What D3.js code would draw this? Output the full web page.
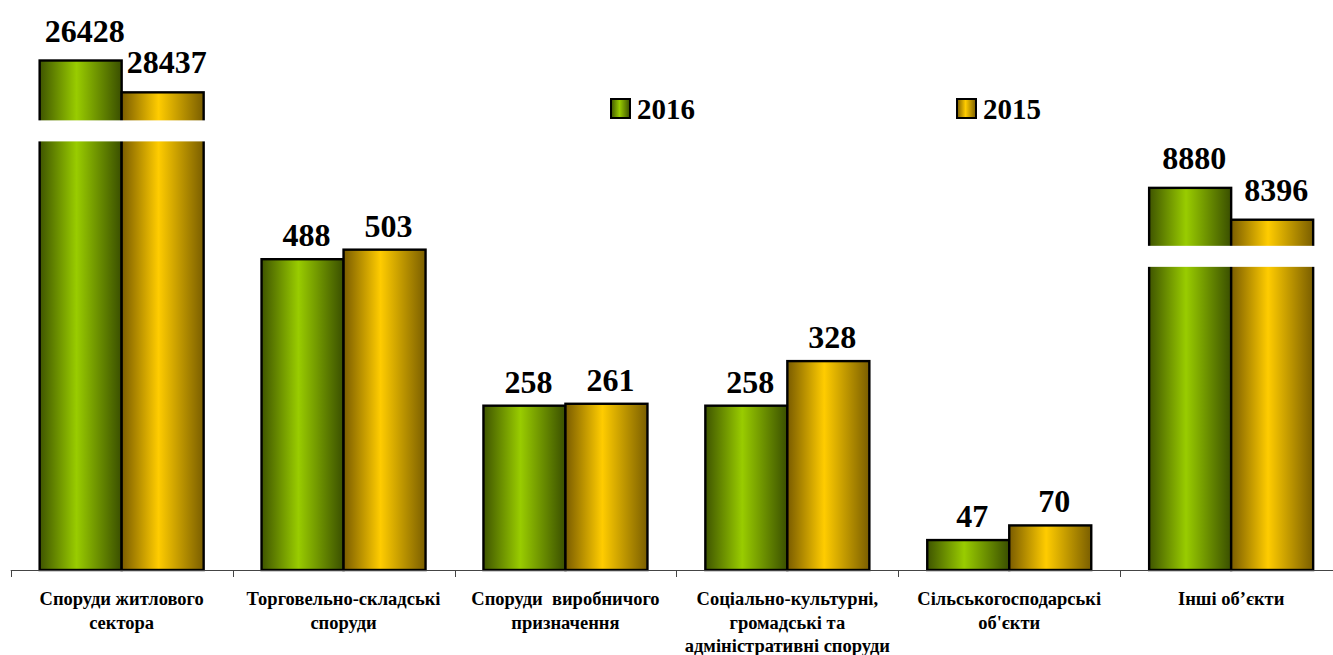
<!DOCTYPE html>
<html><head><meta charset="utf-8">
<script src="https://cdn.jsdelivr.net/npm/d3@7"></script>
<style>html,body{margin:0;padding:0;background:#fff;}svg{display:block;}</style>
</head><body>
<svg id="chart" width="1333" height="655"></svg>
<script>
// ---- data ----
const categories = [
  ["Споруди житлового", "сектора"],
  ["Торговельно-складські", "споруди"],
  ["Споруди  виробничого", "призначення"],
  ["Соціально-культурні,", "громадські та", "адміністративні споруди"],
  ["Сільськогосподарські", "об'єкти"],
  ["Інші об’єкти"]
];
const seriesNames = ["2016", "2015"];
const values2016 = [26428, 488, 258, 258, 47, 8880];
const values2015 = [28437, 503, 261, 328, 70, 8396];
// heights as drawn on the broken axis (null = true value)
const shown2016 = [800, null, null, null, null, 600];
const shown2015 = [750, null, null, null, null, 550];
// axis break bands (in axis units) per category, null = no break
const breaks = [[673, 706], null, null, null, null, [476, 509]];

// ---- layout ----
const svg = d3.select("#chart");
const baseY = 570;
const left = 10.7, step = 221.9;
const serif = "'Liberation Serif','Times New Roman',serif";
const x0 = d3.scaleBand().domain(d3.range(categories.length))
  .range([left, left + step * categories.length]).padding(0);
const x1 = d3.scaleBand().domain(seriesNames).range([0, x0.bandwidth()])
  .paddingInner(0).paddingOuter(0.353);
const y = d3.scaleLinear().domain([0, 895]).range([baseY, 0]);

const defs = svg.append("defs");
function grad(id, dark1, bright, dark2) {
  const g = defs.append("linearGradient").attr("id", id)
    .attr("x1", "0%").attr("x2", "100%").attr("y1", "0%").attr("y2", "0%");
  g.append("stop").attr("offset", "0%").attr("stop-color", dark1);
  g.append("stop").attr("offset", "45%").attr("stop-color", bright);
  g.append("stop").attr("offset", "100%").attr("stop-color", dark2);
}
grad("g2016", "#3f5500", "#99cc00", "#3a4f00");
grad("g2015", "#7a5c00", "#ffcc00", "#7a5e00");
const fills = {"2016": "url(#g2016)", "2015": "url(#g2015)"};

const rows = categories.map((c, i) => ({
  i,
  bars: [
    {s: "2016", v: values2016[i], h: shown2016[i] != null ? shown2016[i] : values2016[i], broken: shown2016[i] != null},
    {s: "2015", v: values2015[i], h: shown2015[i] != null ? shown2015[i] : values2015[i], broken: shown2015[i] != null}
  ]
}));

const groups = svg.append("g").selectAll("g").data(rows).join("g")
  .attr("transform", d => `translate(${x0(d.i)},0)`);

groups.selectAll("rect.bar").data(d => d.bars).join("rect")
  .attr("class", "bar")
  .attr("x", d => x1(d.s))
  .attr("width", x1.bandwidth())
  .attr("y", d => y(d.h))
  .attr("height", d => baseY - y(d.h))
  .attr("fill", d => fills[d.s])
  .attr("stroke", "#000").attr("stroke-width", 2.4);

// axis breaks
groups.filter(d => breaks[d.i]).append("rect")
  .attr("x", x1(seriesNames[0]) - 4)
  .attr("width", x1.bandwidth() * 2 + 8)
  .attr("y", d => y(breaks[d.i][1]))
  .attr("height", d => y(breaks[d.i][0]) - y(breaks[d.i][1]))
  .attr("fill", "#fff");

// value labels
groups.selectAll("text.val").data(d => d.bars).join("text")
  .attr("class", "val")
  .attr("x", d => x1(d.s) + x1.bandwidth() / 2 + 4)
  .attr("y", d => y(d.h) - (d.broken ? 19 : 13))
  .attr("text-anchor", "middle")
  .attr("font-family", serif)
  .attr("font-weight", "bold").attr("font-size", 32)
  .text(d => d.v);

// x axis
const axisG = svg.append("g");
axisG.append("line").attr("x1", left).attr("x2", 1333)
  .attr("y1", baseY + 0.5).attr("y2", baseY + 0.5)
  .attr("stroke", "#444").attr("stroke-width", 1);
axisG.selectAll("line.tick").data(d3.range(categories.length + 1)).join("line")
  .attr("class", "tick")
  .attr("x1", i => Math.round(left + i * step) + 0.5)
  .attr("x2", i => Math.round(left + i * step) + 0.5)
  .attr("y1", baseY).attr("y2", baseY + 7)
  .attr("stroke", "#444");

const catText = axisG.selectAll("text.cat").data(categories).join("text")
  .attr("class", "cat")
  .attr("text-anchor", "middle")
  .attr("font-family", serif)
  .attr("font-weight", "bold").attr("font-size", 18.5)
  .attr("xml:space", "preserve");
catText.each(function(lines, i) {
  const t = d3.select(this);
  lines.forEach((ln, k) => {
    t.append("tspan").attr("x", x0(i) + x0.bandwidth() / 2)
      .attr("y", 605 + k * 23.5).text(ln);
  });
});

// legend
const legendX = [611, 957];
const lg = svg.append("g").selectAll("g").data(seriesNames).join("g")
  .attr("transform", (d, i) => `translate(${legendX[i]},99)`);
lg.append("rect").attr("width", 19).attr("height", 19)
  .attr("fill", d => fills[d]).attr("stroke", "#000").attr("stroke-width", 2);
lg.append("text").attr("x", 26).attr("y", 19.5)
  .attr("font-family", serif)
  .attr("font-weight", "bold").attr("font-size", 29)
  .text(d => d);
</script>
</body></html>
